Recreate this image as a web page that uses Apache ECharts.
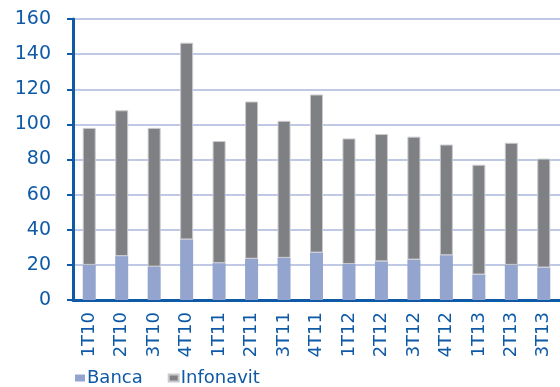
<!DOCTYPE html>
<html>
<head>
<meta charset="utf-8">
<script src="https://cdn.jsdelivr.net/npm/echarts@6/dist/echarts.min.js"></script>
<style>
  html, body { margin: 0; padding: 0; background: #fff; }
  #chart { width: 560px; height: 387px; }
</style>
</head>
<body>
<div id="chart"></div>
<script>
const categories = ['1T10', '2T10', '3T10', '4T10', '1T11', '2T11', '3T11', '4T11',
  '1T12', '2T12', '3T12', '4T12', '1T13', '2T13', '3T13']
const banca = [20, 25, 19, 34.5, 21, 23.5, 24, 27, 20.5, 22, 23, 25.5, 14.5, 20, 18.5]
const totals = [98, 108, 98, 146.5, 90.5, 113, 102, 117, 92, 94.5, 93, 88.5, 77, 89.5, 80.5]
const infonavit = totals.map((t, i) => +(t - banca[i]).toFixed(1))

const blue = '#0f5aa6'
const font = 'DejaVu Sans'

const chart = echarts.init(document.getElementById('chart'))
chart.setOption({
  animation: false,
  color: ['#93a4cf', '#7f8084'],
  grid: { left: 73, right: 0, top: 19, bottom: 87 },
  legend: {
    data: ['Banca', 'Infonavit'],
    left: 75,
    top: 369,
    padding: 0,
    itemWidth: 10,
    itemHeight: 7,
    itemGap: 25,
    icon: 'rect',
    textStyle: { color: blue, fontSize: 18, fontFamily: font, padding: [0, 0, 0, -3] }
  },
  xAxis: {
    type: 'category',
    data: categories,
    axisLine: { lineStyle: { color: blue, width: 3 } },
    axisTick: { lineStyle: { color: blue, width: 2 }, length: 5 },
    axisLabel: {
      rotate: 90,
      color: blue,
      fontSize: 18,
      fontFamily: font,
      margin: 12
    }
  },
  yAxis: {
    type: 'value',
    min: 0,
    max: 160,
    interval: 20,
    axisLine: { show: true, lineStyle: { color: blue, width: 3 } },
    axisTick: { show: true, lineStyle: { color: blue, width: 2 }, length: 6 },
    axisLabel: { color: blue, fontSize: 19, fontFamily: font, margin: 22 },
    splitLine: { lineStyle: { color: '#aab7dd', width: 1.5 } }
  },
  series: [
    {
      name: 'Banca',
      type: 'bar',
      stack: 'total',
      barWidth: 13,
      data: banca
    },
    {
      name: 'Infonavit',
      type: 'bar',
      stack: 'total',
      barWidth: 13,
      itemStyle: { borderColor: '#c9c9cc', borderWidth: 1 },
      data: infonavit
    }
  ]
})
</script>
</body>
</html>
